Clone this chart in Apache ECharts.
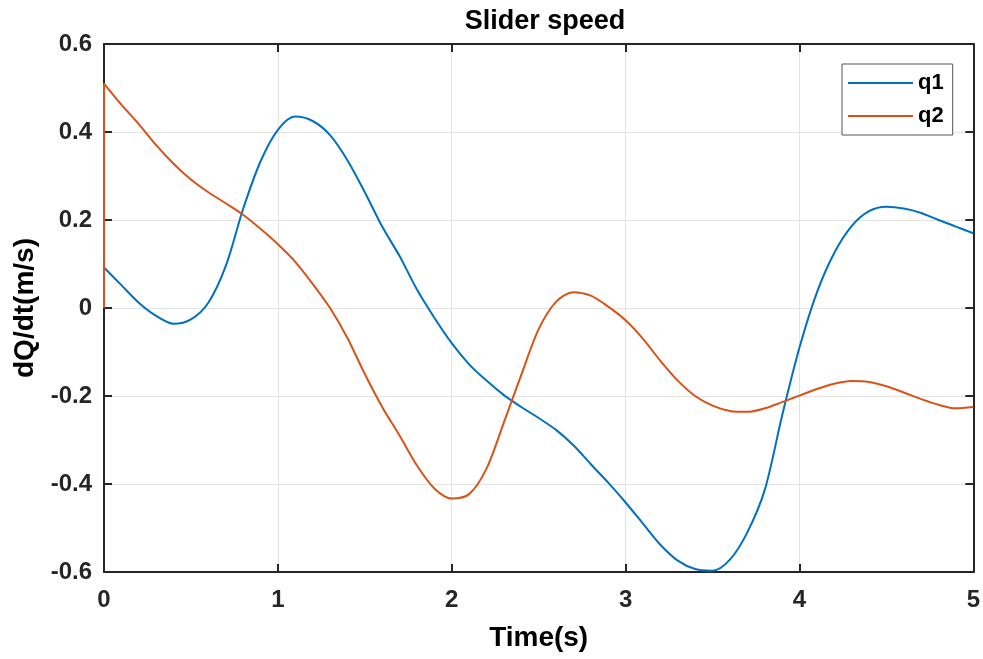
<!DOCTYPE html>
<html>
<head>
<meta charset="utf-8">
<script src="https://cdn.jsdelivr.net/npm/echarts@6/dist/echarts.min.js"></script>
<style>
  html, body { margin: 0; padding: 0; background: #fff; }
  #chart { width: 983px; height: 659px; }
</style>
</head>
<body>
<div id="chart"></div>
<script>
// time samples (s)
var q1Time = [0, 0.1, 0.2, 0.3, 0.4, 0.5, 0.6, 0.7, 0.8, 0.9,
  1.0, 1.1, 1.2, 1.3, 1.4, 1.5, 1.6, 1.7, 1.8, 1.9,
  2.0, 2.1, 2.2, 2.3, 2.4, 2.5, 2.6, 2.7, 2.8, 2.9,
  3.0, 3.1, 3.2, 3.3, 3.4, 3.5, 3.6, 3.7, 3.8, 3.9,
  4.0, 4.1, 4.2, 4.3, 4.4, 4.5, 4.6, 4.7, 4.8, 4.9, 5.0]
var q1Speed = [0.092, 0.052, 0.012, -0.018, -0.036, -0.026, 0.012, 0.095, 0.225, 0.333,
  0.405, 0.435, 0.425, 0.393, 0.336, 0.263, 0.185, 0.118, 0.042, -0.022,
  -0.08, -0.128, -0.165, -0.198, -0.225, -0.25, -0.277, -0.312, -0.355, -0.397,
  -0.442, -0.49, -0.538, -0.574, -0.593, -0.597, -0.572, -0.51, -0.414, -0.245,
  -0.09, 0.035, 0.125, 0.186, 0.22, 0.23, 0.226, 0.216, 0.2, 0.185, 0.17]

// q2 starts at 0 and jumps at t=0
var q2Time = [0, 0, 0.1, 0.2, 0.3, 0.4, 0.5, 0.6, 0.7, 0.8, 0.9,
  1.0, 1.1, 1.2, 1.3, 1.4, 1.5, 1.6, 1.7, 1.8, 1.9,
  2.0, 2.1, 2.2, 2.3, 2.4, 2.5, 2.6, 2.7, 2.8, 2.9,
  3.0, 3.1, 3.2, 3.3, 3.4, 3.5, 3.6, 3.7, 3.8, 3.9,
  4.0, 4.1, 4.2, 4.3, 4.4, 4.5, 4.6, 4.7, 4.8, 4.9, 5.0]
var q2Speed = [0, 0.51, 0.462, 0.418, 0.37, 0.328, 0.292, 0.263, 0.238, 0.212, 0.18,
  0.145, 0.105, 0.055, 0.0, -0.068, -0.15, -0.225, -0.29, -0.358, -0.41,
  -0.433, -0.423, -0.365, -0.26, -0.152, -0.048, 0.014, 0.036, 0.028, 0.003,
  -0.028, -0.07, -0.12, -0.165, -0.2, -0.222, -0.234, -0.236, -0.228, -0.214,
  -0.199, -0.184, -0.172, -0.166, -0.168, -0.178, -0.192, -0.207, -0.22, -0.228, -0.225]

var xTicks = [0, 1, 2, 3, 4, 5]
var yTicks = [-0.6, -0.4, -0.2, 0, 0.2, 0.4, 0.6]

function pairs(t, v) {
  var out = []
  for (var i = 0; i < t.length; i++) out.push([t[i], v[i]])
  return out
}

var font = '"Liberation Sans", Arial, sans-serif'
var axisColor = '#262626'
var c1 = '#0072BD'
var c2 = '#D95319'

var chart = echarts.init(document.getElementById('chart'))

var baseX = {
  type: 'value',
  min: xTicks[0],
  max: xTicks[xTicks.length - 1],
  interval: xTicks[1] - xTicks[0],
  axisLine: { onZero: false, lineStyle: { color: axisColor, width: 2 } },
  axisTick: { inside: true, length: 8, lineStyle: { color: axisColor, width: 2 } },
  splitLine: { show: false }
}
var baseY = {
  type: 'value',
  min: yTicks[0],
  max: yTicks[yTicks.length - 1],
  interval: 0.2,
  axisLine: { onZero: false, lineStyle: { color: axisColor, width: 2 } },
  axisTick: { inside: true, length: 8, lineStyle: { color: axisColor, width: 2 } },
  splitLine: { show: false }
}

var q2All = pairs(q2Time, q2Speed)

var option = {
  backgroundColor: '#fff',
  animation: false,
  title: {
    text: 'Slider speed',
    left: 540,
    textAlign: 'center',
    top: 3,
    textStyle: { fontFamily: font, fontWeight: 'bold', fontSize: 27, color: '#000' }
  },
  legend: {
    orient: 'vertical',
    left: 842,
    top: 64,
    padding: [8, 9, 8, 6],
    icon: 'rect',
    itemWidth: 65,
    itemHeight: 2,
    itemGap: 11,
    borderColor: '#555',
    borderWidth: 1,
    backgroundColor: '#fff',
    textStyle: { fontFamily: font, fontWeight: 'bold', fontSize: 22, color: '#000', lineHeight: 22 },
    data: ['q1', 'q2']
  },
  grid: { left: 104, right: 8, top: 44, bottom: 87, containLabel: false },
  xAxis: [
    Object.assign({}, baseX, {
      position: 'bottom',
      name: 'Time(s)',
      nameLocation: 'middle',
      nameGap: 52,
      nameTextStyle: { fontFamily: font, fontWeight: 'bold', fontSize: 28, color: '#000' },
      axisLabel: { margin: 16, fontFamily: font, fontWeight: 'bold', fontSize: 24, color: '#262626' },
      splitLine: { show: true, lineStyle: { color: '#e3e3e3', width: 1 } }
    }),
    Object.assign({}, baseX, { position: 'top', axisLabel: { show: false } })
  ],
  yAxis: [
    Object.assign({}, baseY, {
      position: 'left',
      name: 'dQ/dt(m/s)',
      nameLocation: 'middle',
      nameGap: 64,
      nameTextStyle: { fontFamily: font, fontWeight: 'bold', fontSize: 28, color: '#000' },
      axisLabel: { margin: 12, fontFamily: font, fontWeight: 'bold', fontSize: 24, color: '#262626' },
      splitLine: { show: true, lineStyle: { color: '#e3e3e3', width: 1 } }
    }),
    Object.assign({}, baseY, { position: 'right', axisLabel: { show: false } })
  ],
  series: [
    {
      name: 'q1',
      type: 'line',
      data: pairs(q1Time, q1Speed),
      showSymbol: false,
      smooth: 0.3,
      lineStyle: { color: c1, width: 2 },
      itemStyle: { color: c1 }
    },
    {
      // initial jump of q2 at t=0
      name: 'q2',
      type: 'line',
      data: q2All.slice(0, 2),
      showSymbol: false,
      lineStyle: { color: c2, width: 2 },
      itemStyle: { color: c2 }
    },
    {
      name: 'q2',
      type: 'line',
      data: q2All.slice(1),
      showSymbol: false,
      smooth: 0.3,
      lineStyle: { color: c2, width: 2 },
      itemStyle: { color: c2 }
    }
  ]
}
chart.setOption(option)
</script>
</body>
</html>
